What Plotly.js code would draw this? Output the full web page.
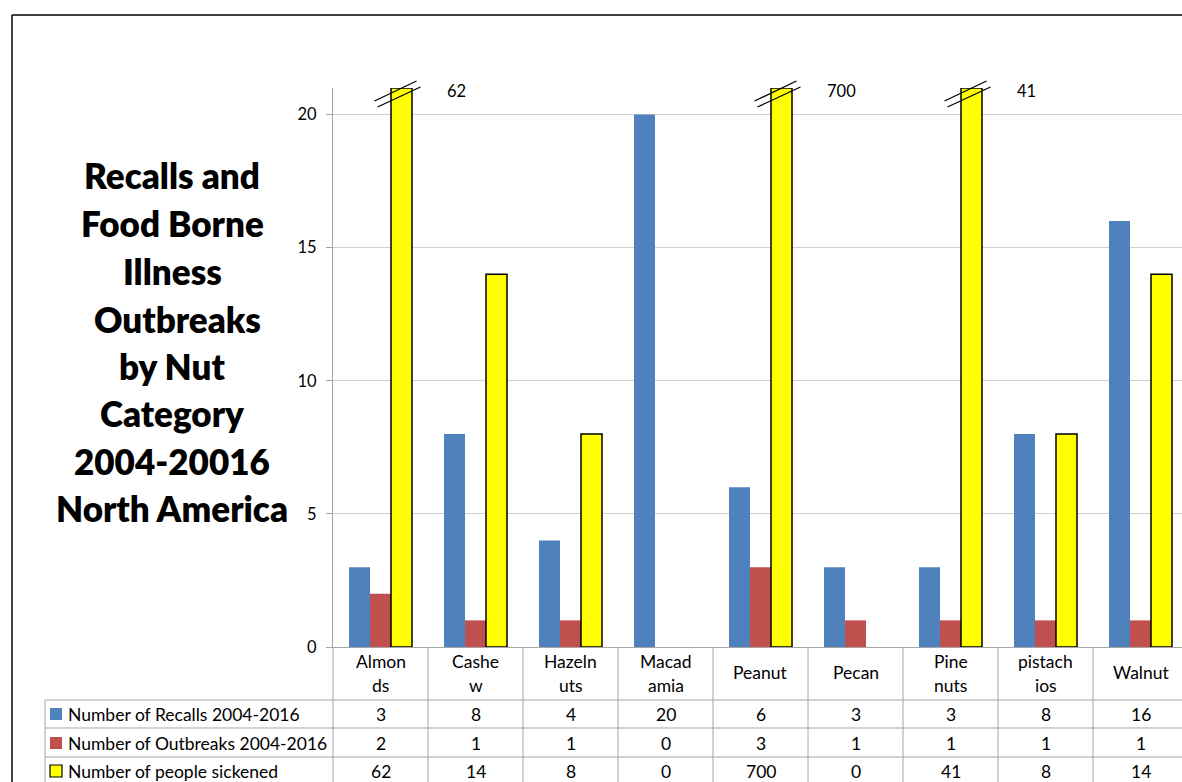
<!DOCTYPE html>
<html>
<head>
<meta charset="utf-8">
<script src="https://cdn.plot.ly/plotly-3.0.1.min.js"></script>
<style>html,body{margin:0;padding:0;background:#fff;}#chart{width:1182px;height:782px;}</style>
</head>
<body>
<div id="chart"></div>
<script>
// ---- data ----
const categories = ["Almonds","Cashew","Hazelnuts","Macadamia","Peanut","Pecan","Pine nuts","pistachios","Walnut"];
const categoryLabels = [["Almon","ds"],["Cashe","w"],["Hazeln","uts"],["Macad","amia"],["Peanut"],["Pecan"],["Pine","nuts"],["pistach","ios"],["Walnut"]];
const seriesNames = ["Number of Recalls 2004-2016","Number of Outbreaks 2004-2016","Number of people sickened"];
const recalls = [3, 8, 4, 20, 6, 3, 3, 8, 16];
const outbreaks = [2, 1, 1, 0, 3, 1, 1, 1, 1];
const sickened = [62, 14, 8, 0, 700, 0, 41, 8, 14];
const yTicks = [0, 5, 10, 15, 20];
const titleLines = ["Recalls and","Food Borne","Illness"," Outbreaks","by Nut","Category","2004-20016","North America"];
const axisCap = 21;

// ---- layout helpers (pixel -> paper) ----
const W = 1182, H = 782;
const L = 333, T = 88, B = 647;            // plot area edges in px
const catW = 95;                            // px per category
const R = W;
const PH = B - T, PW = R - L;
const px = v => (v - L) / PW;
const py = v => (B - v) / PH;

const font = "Lato, 'Open Sans', sans-serif";
const gray = "#A6A6A6";
const colors = ["#4F81BD", "#C0504D", "#FFFF00"];
const tsize = 17.5;

const xIdx = categories.map((c, i) => i);
const sickShown = sickened.map(v => Math.min(v, axisCap));

const traces = [
  {type: "bar", x: xIdx, y: recalls, name: seriesNames[0], marker: {color: colors[0], line: {width: 0}}},
  {type: "bar", x: xIdx, y: outbreaks, name: seriesNames[1], marker: {color: colors[1], line: {width: 0}}},
  {type: "bar", x: xIdx, y: sickShown, name: seriesNames[2], marker: {color: colors[2], line: {color: "#000", width: sickShown.map(v => v > 0 ? 1.5 : 0)}}}
];

const shapes = [];
const annotations = [];

// outer frame
shapes.push({type: "line", xref: "paper", yref: "paper", x0: px(12), x1: px(W + 5), y0: py(15), y1: py(15), line: {color: "#000", width: 1.5}});
shapes.push({type: "line", xref: "paper", yref: "paper", x0: px(12), x1: px(12), y0: py(15), y1: py(H + 5), line: {color: "#000", width: 1.5}});

// data table grid
const rowLines = [700, 728, 757];
rowLines.forEach(r => shapes.push({type: "line", xref: "paper", yref: "paper", x0: px(45), x1: px(W + 5), y0: py(r), y1: py(r), line: {color: gray, width: 1}}));
shapes.push({type: "line", xref: "paper", yref: "paper", x0: px(45), x1: px(45), y0: py(700), y1: py(H + 5), line: {color: gray, width: 1}});
shapes.push({type: "line", xref: "paper", yref: "paper", x0: 0, x1: 0, y0: 0, y1: py(H + 5), line: {color: gray, width: 1}});
categories.forEach((c, i) => {
  shapes.push({type: "line", xref: "x", yref: "paper", x0: i + 0.5, x1: i + 0.5, y0: 0, y1: py(H + 5), line: {color: gray, width: 1}});
});

// category header labels
categoryLabels.forEach((lines, i) => {
  const ys = lines.length === 2 ? [661, 685] : [672];
  lines.forEach((t, k) => annotations.push({xref: "x", yref: "paper", x: i, y: py(ys[k]), text: t, showarrow: false, xanchor: "center", yanchor: "middle", font: {family: font, size: tsize, color: "#000"}}));
});

// table rows
const rowData = [recalls, outbreaks, sickened];
const rowY = [714, 743, 771];
rowData.forEach((arr, r) => {
  arr.forEach((v, i) => annotations.push({xref: "x", yref: "paper", x: i, y: py(rowY[r]), text: String(v), showarrow: false, xanchor: "center", yanchor: "middle", font: {family: font, size: tsize, color: "#000"}}));
  // legend key
  shapes.push({type: "rect", xref: "paper", yref: "paper", x0: px(50), x1: px(62), y0: py(rowY[r] + 6), y1: py(rowY[r] - 6), fillcolor: colors[r], line: {color: r === 2 ? "#000" : colors[r], width: r === 2 ? 1.2 : 0}});
  annotations.push({xref: "paper", yref: "paper", x: px(66), y: py(rowY[r]), text: seriesNames[r], showarrow: false, xanchor: "left", yanchor: "middle", font: {family: font, size: tsize, color: "#000"}});
});

// axis break marks and true-value labels for capped bars
const barW = 21 / catW;
sickened.forEach((v, i) => {
  if (v > axisCap) {
    const cx = i + barW; // centre of third bar in group
    shapes.push({type: "line", xref: "x", yref: "paper", x0: cx - 27 / catW, x1: cx + 15 / catW, y0: py(101), y1: py(81), line: {color: "#000", width: 1.3}});
    shapes.push({type: "line", xref: "x", yref: "paper", x0: cx - 24 / catW, x1: cx + 19 / catW, y0: py(107), y1: py(87), line: {color: "#000", width: 1.3}});
    annotations.push({xref: "x", yref: "paper", x: i + 0.68, y: py(91), text: String(v), showarrow: false, xanchor: "left", yanchor: "middle", font: {family: font, size: 16.5, color: "#000"}});
  }
});

// title lines
const titleY = [175, 223, 271, 319, 366, 413, 461, 508];
titleLines.forEach((t, k) => annotations.push({xref: "paper", yref: "paper", x: px(172), y: py(titleY[k]), text: t.trim(), showarrow: false, xanchor: "center", yanchor: "middle", xshift: t.startsWith(" ") ? 5 : 0, font: {family: font, size: 35, weight: 800, color: "#000"}}));

const layout = {
  width: W, height: H,
  margin: {l: L, r: W - R, t: T, b: H - B, pad: 0},
  paper_bgcolor: "#fff", plot_bgcolor: "#fff",
  showlegend: false,
  barmode: "group",
  bargap: 1 - 63 / catW,
  bargroupgap: 0,
  font: {family: font, size: 15, color: "#000"},
  xaxis: {
    type: "linear",
    range: [-0.5, -0.5 + PW / catW],
    showticklabels: false, ticks: "", showgrid: false, zeroline: false,
    showline: true, linecolor: gray, linewidth: 1, fixedrange: true
  },
  yaxis: {
    range: [0, axisCap],
    tickvals: yTicks, ticktext: yTicks.map(String),
    ticks: "outside", ticklen: 6, tickcolor: gray,
    showgrid: true, gridcolor: "#D0D0D0", gridwidth: 1,
    zeroline: false, showline: true, linecolor: gray, linewidth: 1,
    tickfont: {family: font, size: 16.5, color: "#000"},
    ticklabelstandoff: 6, fixedrange: true
  },
  shapes: shapes,
  annotations: annotations
};

Plotly.newPlot("chart", traces, layout, {displayModeBar: false, staticPlot: true});
</script>
</body>
</html>
